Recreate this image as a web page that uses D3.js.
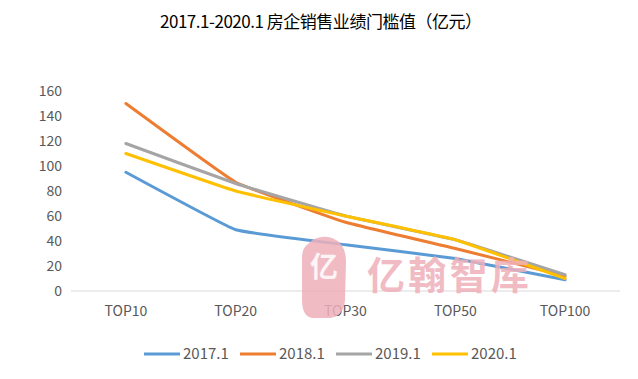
<!DOCTYPE html>
<html>
<head>
<meta charset="utf-8">
<script src="https://d3js.org/d3.v7.min.js"></script>
<style>
  body { margin: 0; background: #fff; }
  text { font-family: "Noto Sans CJK SC", "Open Sans", sans-serif; }
</style>
</head>
<body>
<div id="chart"></div>
<script>
// chart data
var categories = ["TOP10", "TOP20", "TOP30", "TOP50", "TOP100"];
var seriesNames = ["2017.1", "2018.1", "2019.1", "2020.1"];
var s2017 = [95, 49, 37, 26, 9];
var s2018 = [150, 87, 55, 34, 12];
var s2019 = [118, 86, 60, 41, 13];
var s2020 = [110, 80, 60, 41, 10];
var yTicks = [0, 20, 40, 60, 80, 100, 120, 140, 160];
var colors = ["#5B9BD5", "#ED7D31", "#A5A5A5", "#FFC000"];

var series = [s2017, s2018, s2019, s2020].map(function(v, i) {
  return { name: seriesNames[i], values: v, color: colors[i] };
});

var W = 638, H = 379;
var margin = {top: 91, right: 18, bottom: 88, left: 71};
var width = W - margin.left - margin.right,
    height = H - margin.top - margin.bottom;

var svg = d3.select("#chart").append("svg")
  .attr("width", W).attr("height", H);

// title
svg.append("text")
  .attr("x", 321).attr("y", 28)
  .attr("text-anchor", "middle")
  .style("font-size", "17px")
  .style("fill", "#000")
  .attr("textLength", 322)
  .text("2017.1-2020.1 房企销售业绩门槛值（亿元）");

var g = svg.append("g")
  .attr("transform", "translate(" + margin.left + "," + margin.top + ")");

var x = d3.scaleBand().domain(categories).range([0, width]);
var y = d3.scaleLinear().domain([0, 160]).range([height, 0]);

// watermark
var wm = svg.append("g").attr("opacity", 0.85);
wm.append("path")
  .attr("d", "M308,244 Q318,234 332,238 Q346,243 346,262 L345,300 Q344,316 330,318 L312,318 Q302,316 302,300 L302,258 Q302,248 308,244 Z")
  .attr("fill", "#efb0ba");
wm.append("text")
  .attr("x", 324).attr("y", 277)
  .attr("text-anchor", "middle")
  .style("font-size", "28px").style("font-weight", "bold")
  .style("fill", "#fff").attr("opacity", 0.85)
  .text("亿");
wm.append("text")
  .attr("x", 367).attr("y", 289)
  .style("font-size", "38px").style("font-weight", "bold")
  .style("fill", "#efb0ba")
  .attr("textLength", 162)
  .text("亿翰智库");

// y axis labels
g.selectAll(".ylab").data(yTicks).enter().append("text")
  .attr("x", -9).attr("y", function(d) { return y(d); })
  .attr("dy", "0.35em")
  .attr("text-anchor", "end")
  .style("font-size", "14px").style("fill", "#595959")
  .text(function(d) { return d; });

// x axis line
g.append("line")
  .attr("x1", 0).attr("x2", width)
  .attr("y1", y(0)).attr("y2", y(0))
  .style("stroke", "#d9d9d9").style("stroke-width", 1);

g.selectAll(".xlab").data(categories).enter().append("text")
  .attr("x", function(d) { return x(d) + x.bandwidth() / 2; })
  .attr("y", y(0) + 25)
  .attr("text-anchor", "middle")
  .style("font-size", "14px").style("fill", "#595959")
  .text(function(d) { return d; });

// lines
var line = d3.line()
  .x(function(d, i) { return x(categories[i]) + x.bandwidth() / 2; })
  .y(function(d) { return y(d); })
  .curve(d3.curveCardinal.tension(0.75));

g.selectAll(".series").data(series).enter().append("path")
  .attr("d", function(d) { return line(d.values); })
  .style("fill", "none")
  .style("stroke", function(d) { return d.color; })
  .style("stroke-width", 3)
  .style("stroke-linecap", "round");

// legend
var legend = svg.append("g").attr("transform", "translate(0,354)");
var lx = [144, 240, 336, 432];
var items = legend.selectAll(".leg").data(series).enter().append("g")
  .attr("transform", function(d, i) { return "translate(" + lx[i] + ",0)"; });
items.append("line")
  .attr("x1", 0).attr("x2", 36)
  .style("stroke", function(d) { return d.color; })
  .style("stroke-width", 3);
items.append("text")
  .attr("x", 39).attr("dy", "0.35em")
  .style("font-size", "15px").style("fill", "#595959")
  .text(function(d) { return d.name; });
</script>
</body>
</html>
